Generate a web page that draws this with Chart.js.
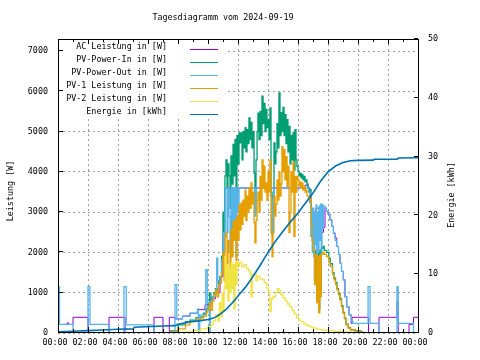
<!DOCTYPE html>
<html><head><meta charset="utf-8">
<script src="https://cdn.jsdelivr.net/npm/chart.js@4/dist/chart.umd.min.js"></script>
<style>html,body{margin:0;padding:0;background:#fff}canvas{display:block}</style>
</head><body>
<canvas id="c" width="480" height="360"></canvas>
<script>
const chartTitle = 'Tagesdiagramm vom 2024-09-19';
const yTitle = 'Leistung [W]';
const y2Title = 'Energie [kWh]';
const xTickValues = [0,2,4,6,8,10,12,14,16,18,20,22,24];
const xTickLabels = ['00:00','02:00','04:00','06:00','08:00','10:00','12:00','14:00','16:00','18:00','20:00','22:00','00:00'];
const yTickValues = [0,1000,2000,3000,4000,5000,6000,7000];
const y2TickValues = [0,10,20,30,40,50];
const seriesLabels = ['AC Leistung in [W]','PV-Power-In in [W]','PV-Power-Out in [W]','PV-1 Leistung in [W]','PV-2 Leistung in [W]','Energie in [kWh]'];
const seriesColors = ['#9400d3','#009e73','#56b4e9','#e69f00','#f0e442','#0072b2'];

// shared sample times (hours) for the busy midday part: 11:00 .. 16:56, 4-minute steps
const middayTimes = [
  11,11.07,11.13,11.2,11.27,11.33,11.4,11.47,11.53,11.6,11.67,11.73,11.8,11.87,11.93,
  12,12.07,12.13,12.2,12.27,12.33,12.4,12.47,12.53,12.6,12.67,12.73,12.8,12.87,12.93,
  13,13.07,13.13,13.2,13.27,13.33,13.4,13.47,13.53,13.6,13.67,13.73,13.8,13.87,13.93,
  14,14.07,14.13,14.2,14.27,14.33,14.4,14.47,14.53,14.6,14.67,14.73,14.8,14.87,14.93,
  15,15.07,15.13,15.2,15.27,15.33,15.4,15.47,15.53,15.6,15.67,15.73,15.8,15.87,15.93,
  16,16.07,16.13,16.2,16.27,16.33,16.4,16.47,16.53,16.6,16.67,16.73,16.8,16.87,16.93];
const morningTimes = [7.0,7.5,8.0,8.5,8.8,9.2,9.5,9.7,9.9,10.0,10.1,10.2,10.3,10.4,10.5,10.6,10.7,10.8,10.9];
const eveningTimes = [17.0,17.1,17.15,17.25,17.3,17.38,17.45,17.5,17.55,17.65,17.75,17.9,18.05,18.15,18.3,18.4,18.5,18.6,18.7,18.8,18.9,19.0,19.1,19.2,19.35,19.5,19.8,20.2,20.3];

// AC Leistung [W]
const acTimes  = [0,0.6,0.7,1.0,2.0,3.4,4.47,6.4,7.0,7.42,7.8,8.3,8.8,9.3,9.8,10.2,10.5,10.8,11.0,11.1,13.8,14.0,14.67,14.8,16.47,16.67,16.8,16.9,17.0,17.2,17.5,17.7,17.8,17.9,18.0,18.13,18.25,18.36,18.47,18.58,18.7,18.8,18.9,19.02,19.13,19.25,19.4,19.55,19.6,20.7,21.4,22.6,22.68,23.4,23.7,24];
const acValues = [210,250,210,390,0,390,0,390,0,390,350,420,490,580,700,850,1000,1400,2400,3600,3670,3600,3670,3600,3670,3600,3230,2600,3000,3100,2500,2620,3100,3020,2950,2810,2650,2480,2360,2150,1950,1730,1530,1320,900,650,450,240,390,0,390,780,0,215,390,390];

// PV-Power-In [W]
const inMorning = [10,50,200,280,320,380,400,490,600,750,990,800,900,1000,1100,1050,1300,1400,1900];
const inMidday = [
  3000,2500,3900,4300,3600,4200,3900,3100,4400,3700,4680,3900,4800,3400,4900,
  4200,4970,4720,4970,4300,5000,4600,5100,4500,5050,4700,5340,4800,5230,4600,
  5000,3970,3000,4300,5000,5460,4800,5500,4900,5880,5200,5700,5000,5550,5100,
  5300,4800,5590,3500,2480,3400,4720,4200,4500,5200,4600,5960,4900,5470,5000,
  5600,4900,5420,4700,5300,4500,5130,4200,4900,4300,4970,4050,5050,4300,4140,
  4010,3900,3970,3850,3940,3800,3890,3750,3800,3700,3600,3500,3560,2900,2500];
const inEvening = [2200,1300,2050,850,2000,600,2050,1000,2100,2150,2050,2000,1850,1720,1500,1360,1250,1100,980,850,680,510,370,220,130,85,50,25,0];

// PV-Power-Out [W]
const outTimes  = [0,0.1,1.0,2.0,2.13,3.4,4.4,4.55,6.42,7.8,7.92,8.3,8.8,9.3,9.36,9.45,9.85,9.95,10.1,10.15,10.3,10.5,10.58,10.65,10.8,10.9,
  11,11.07,11.13,11.2,11.27,11.33,11.4,11.47,11.53,11.6,11.67,11.73,11.8,11.87,11.93,12,12.07,
  13.13,13.2,14.2,14.27,14.33,14.4,16.73,16.8,16.85,16.9,16.95,17.0,17.05,17.1,17.15,17.2,17.25,17.3,17.35,17.4,17.45,17.5,17.55,17.6,17.65,17.7,17.8,
  17.9,18.0,18.13,18.25,18.36,18.47,18.58,18.7,18.8,18.9,19.02,19.13,19.25,19.4,19.55,19.65,20.67,20.8,21.4,22.6,22.68,23.7,24];
const outValues = [1150,215,0,1150,215,0,1150,200,0,1200,350,420,490,600,0,450,1570,750,0,800,900,1000,1860,1300,1400,1800,
  2500,2000,3600,3600,2500,3600,2900,2000,3600,2600,3600,2700,3600,1900,3600,3000,3600,
  2900,3600,3400,2400,3300,3600,3500,3230,2400,3100,2000,3100,1900,3000,2200,3180,1900,3000,2000,3150,2300,3200,1950,3200,2600,3150,3100,
  3020,2950,2810,2650,2480,2300,2150,1950,1730,1530,1320,900,650,450,280,240,1150,240,0,1150,240,0,0];

// PV-1 Leistung [W]
const pv1Morning = [10,30,100,200,280,330,370,420,520,600,750,560,800,950,1070,900,1200,1240,1500];
const pv1Midday = [
  2000,1300,2400,2490,1700,2300,2000,1400,2560,1900,2770,2300,2800,1800,2900,
  2300,3180,2560,3230,2700,3300,2900,3550,2800,3400,3000,3600,3100,3730,3200,
  3500,2740,2240,2800,3300,3500,3000,3890,3300,4300,3600,4140,3500,3730,3300,
  4000,3500,4300,2480,1900,2500,3390,2900,3200,3800,3300,4000,3400,3700,4630,
  4000,4550,3800,4380,3640,4140,2490,2990,4000,3500,4250,2400,3890,3500,3890,
  3800,3650,3750,3600,3730,3550,3640,3500,3550,3400,3400,3300,3360,2700,2300];
const pv1Evening = [2060,1200,1940,750,1900,500,1940,900,1950,2000,1950,1900,1750,1650,1450,1320,1200,1070,950,820,650,490,350,200,120,75,40,20,0];

// PV-2 Leistung [W]
const pv2Times  = [7.7,8.0,8.5,9.0,9.5,10.0,10.2,10.35,10.5,10.65,10.75,10.85,10.95,
  11,11.07,11.13,11.2,11.27,11.33,11.4,11.47,11.53,11.6,11.67,11.73,11.8,11.87,11.93,
  12.0,12.1,12.25,12.4,12.55,12.7,12.8,12.87,12.95,13.1,13.2,13.3,13.45,13.6,13.75,13.9,14.0,14.12,14.22,14.35,14.5,14.62,14.75,14.85,15.0,15.15,15.3,15.45,15.6,15.75,15.9,16.05,16.2,16.4,16.6,16.8,17.0,17.3,17.6,18.0,18.5,19.0,19.5,19.7];
const pv2Values = [10,20,30,60,100,150,200,300,450,300,750,400,1000,
  570,1100,1900,1100,1700,800,1600,1000,1750,1100,1700,600,1740,1200,1750,
  1650,1750,1650,1700,1600,1550,1500,900,1450,1480,1300,1420,1350,1320,1250,1120,1050,530,850,900,1000,1100,1050,950,870,800,720,650,560,470,380,320,280,220,180,150,120,90,70,55,35,25,10,0];

// Energie [kWh]
const eTimes  = [0,1,2,3,4,5,5.1,7,7.8,8,8.5,9,9.5,10,10.25,10.5,10.75,11,11.25,11.5,11.75,12,12.5,13,13.5,14,14.5,15,15.5,16,16.5,17,17.5,18,18.5,19,19.5,20,21,21.1,22.6,22.7,24];
const eValues = [0.2,0.3,0.4,0.5,0.63,0.7,0.97,1.19,1.25,1.5,1.75,1.95,2.1,2.3,2.45,2.7,3.1,3.6,4.1,4.8,5.5,6.3,7.8,9.6,11.6,13.7,15.6,17.3,18.9,20.4,22.1,23.8,25.8,27.4,28.4,29.0,29.3,29.35,29.4,29.55,29.55,29.75,29.8];

const FONT_FAMILY = "'DejaVu Sans Mono', monospace";
const FONT_SIZE = 8.4;
const FONT = FONT_SIZE + 'px ' + FONT_FAMILY;

function pts(ts, vs) { return ts.map((t, i) => ({x: t, y: vs[i]})); }
const dayTimes = morningTimes.concat(middayTimes, eveningTimes);
const seriesData = [
  pts(acTimes, acValues),
  pts(dayTimes, inMorning.concat(inMidday, inEvening)),
  pts(outTimes, outValues),
  pts(dayTimes, pv1Morning.concat(pv1Midday, pv1Evening)),
  pts(pv2Times, pv2Values),
  pts(eTimes, eValues)];
const lineWidths = [1, 1.3, 1.3, 1.3, 1.3, 1.6];

const datasets = seriesLabels.map((lab, i) => ({
  label: lab,
  data: seriesData[i],
  borderColor: seriesColors[i],
  backgroundColor: seriesColors[i],
  borderWidth: lineWidths[i],
  pointRadius: 0,
  fill: false,
  stepped: i < 5 ? true : false,
  tension: 0,
  yAxisID: i === 5 ? 'y2' : 'y',
  order: 6 - i
}));

const gnuplotLook = {
  id: 'gnuplotLook',
  beforeDraw(chart) {
    const c = chart.ctx;
    c.save(); c.fillStyle = '#fff'; c.fillRect(0, 0, chart.width, chart.height); c.restore();
  },
  afterDatasetsDraw(chart) {
    const c = chart.ctx, a = chart.chartArea;
    const xs = chart.scales.x, ys = chart.scales.y, y2s = chart.scales.y2;
    c.save();
    c.fillStyle = '#fff';
    c.fillRect(a.left + 1, a.top + 1, 166, 79);
    c.font = FONT; c.textAlign = 'right'; c.textBaseline = 'middle';
    chart.data.datasets.forEach((d, i) => {
      const ty = a.top + 8 + 13 * i;
      c.fillStyle = '#000';
      c.fillText(d.label, a.left + 109, ty);
      c.strokeStyle = d.borderColor; c.lineWidth = 1;
      c.beginPath(); c.moveTo(a.left + 132, ty + 2.5); c.lineTo(a.left + 160, ty + 2.5); c.stroke();
    });
    c.strokeStyle = '#000'; c.lineWidth = 1;
    c.strokeRect(a.left + 0.5, a.top + 0.5, a.right - a.left, a.bottom - a.top - 1);
    c.beginPath();
    yTickValues.forEach((w) => {
      const y = Math.round(ys.getPixelForValue(w)) - 0.5;
      c.moveTo(a.left, y); c.lineTo(a.left + 5, y);
    });
    y2TickValues.forEach((e) => {
      const y = Math.round(y2s.getPixelForValue(e)) - 0.5;
      c.moveTo(a.right, y); c.lineTo(a.right - 4, y);
    });
    for (let h = 0; h <= 24; h++) {
      const x = Math.round(xs.getPixelForValue(h)) + 0.5;
      const len = h % 2 === 0 ? 5 : 3;
      c.moveTo(x, a.bottom - 1); c.lineTo(x, a.bottom - 1 - len);
      c.moveTo(x, a.top); c.lineTo(x, a.top + len);
    }
    c.stroke();
    c.fillStyle = '#000'; c.textAlign = 'center'; c.textBaseline = 'middle';
    c.fillText(chartTitle, 223, 18);
    c.save(); c.translate(11, 191); c.rotate(-Math.PI / 2); c.fillText(yTitle, 0, 0); c.restore();
    c.save(); c.translate(452, 195); c.rotate(-Math.PI / 2); c.fillText(y2Title, 0, 0); c.restore();
    c.restore();
  }
};

Chart.defaults.font.family = FONT_FAMILY;
Chart.defaults.font.size = FONT_SIZE;
Chart.defaults.color = '#000';

const gridOpts = { color: '#a0a0a0', drawTicks: false, lineWidth: 1, borderDash: [2, 3] };
const fixTicks = (vals) => (s) => { s.ticks = vals.map((v) => ({ value: v })); };

new Chart(document.getElementById('c'), {
  type: 'line',
  data: { datasets },
  options: {
    responsive: false,
    devicePixelRatio: 1,
    animation: false,
    layout: { padding: { top: 39, left: 0, right: 0, bottom: 0 } },
    plugins: { legend: { display: false }, title: { display: false }, tooltip: { enabled: false } },
    scales: {
      x: {
        type: 'linear', min: 0, max: 24,
        afterBuildTicks: fixTicks(xTickValues),
        ticks: { autoSkip: false, maxRotation: 0, minRotation: 0, padding: 5, labelOffset: -3,
                 callback: (v) => xTickLabels[xTickValues.indexOf(v)] },
        grid: gridOpts,
        border: { display: false, dash: [2, 3] },
        afterFit: (s) => { s.height = 27; }
      },
      y: {
        position: 'left', min: 0, max: 7300,
        afterBuildTicks: fixTicks(yTickValues),
        ticks: { autoSkip: false, padding: 10, callback: (v) => String(v) },
        grid: gridOpts,
        border: { display: false, dash: [2, 3] },
        afterFit: (s) => { s.width = 58; }
      },
      y2: {
        position: 'right', min: 0, max: 50,
        afterBuildTicks: fixTicks(y2TickValues),
        ticks: { autoSkip: false, padding: 10, callback: (v) => String(v) },
        grid: { drawOnChartArea: false, drawTicks: false },
        border: { display: false },
        afterFit: (s) => { s.width = 62; }
      }
    }
  },
  plugins: [gnuplotLook]
});
</script>
</body></html>
